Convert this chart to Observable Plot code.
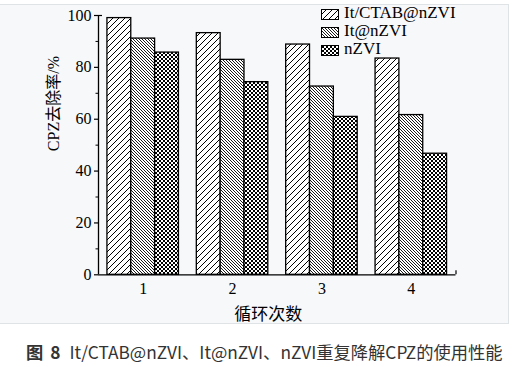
<!DOCTYPE html>
<html><head><meta charset="utf-8">
<script src="https://cdn.jsdelivr.net/npm/d3@7"></script>
<script src="https://cdn.jsdelivr.net/npm/@observablehq/plot@0.6"></script>
<style>
body{margin:0;background:#fff;width:523px;height:367px;overflow:hidden;position:relative;font-family:"Liberation Serif",serif;}
#panel{position:absolute;left:-1px;top:4px;width:508px;height:318px;background:#f7f8fa;border:1px solid #dfe3e6;}
#chart{position:absolute;left:0;top:0;}
.lg{position:absolute;left:321px;height:18px;}
.lg svg{position:absolute;left:0;top:4px;}
.lg span{position:absolute;left:23px;top:-1px;font-size:17px;line-height:18px;white-space:nowrap;color:#000;}
#caption{position:absolute;left:26px;top:341px;font-family:"Noto Sans CJK SC",sans-serif;font-size:17.3px;line-height:22px;color:#333;white-space:nowrap;}
#caption b{margin-right:9px;word-spacing:3px;}
</style></head>
<body>
<svg width="0" height="0" style="position:absolute">
<defs>
<pattern id="p0" patternUnits="userSpaceOnUse" width="6" height="6">
<rect width="6" height="6" fill="#fff"/>
<path d="M-1,7 L7,-1 M-1,1 L1,-1 M5,7 L7,5" stroke="#000" stroke-width="1"/>
</pattern>
<pattern id="p1" patternUnits="userSpaceOnUse" width="3" height="3">
<rect width="3" height="3" fill="#fff"/>
<path d="M-1,-1 L4,4 M-1,2 L1,4 M2,-1 L4,1" stroke="#000" stroke-width="0.9"/>
</pattern>
<pattern id="p2" patternUnits="userSpaceOnUse" width="4" height="4">
<rect width="4" height="4" fill="#fff"/>
<path d="M-1,-1 L5,5 M-1,5 L5,-1 M-1,3 L1,5 M3,-1 L5,1 M-1,1 L1,-1 M3,5 L5,3" stroke="#000" stroke-width="1.0"/>
</pattern>
</defs>
</svg>
<div id="panel"><div id="chart"></div></div>
<div id="legend"></div>
<div id="caption"><b>图 8</b>It/CTAB@nZVI、It@nZVI、nZVI重复降解CPZ的使用性能</div>
<script>
const cycles = [1, 2, 3, 4];
const seriesNames = ["It/CTAB@nZVI", "It@nZVI", "nZVI"];
const ctabValues = [99.0, 93.2, 88.8, 83.4];
const itValues = [91.1, 82.9, 72.6, 61.6];
const nzviValues = [85.7, 74.3, 60.9, 46.7];
const yTicks = [0, 20, 40, 60, 80, 100];
const yMinorTicks = [10, 30, 50, 70, 90];
const xLabel = "循环次数";
const yLabel = "CPZ去除率/%";

const seriesValues = [ctabValues, itValues, nzviValues];
const patterns = ["url(#p0)", "url(#p1)", "url(#p2)"];
const rows = [];
seriesValues.forEach((vals, si) => vals.forEach((v, ci) => rows.push({cycle: cycles[ci], si, value: v})));

const groupW = 0.8, barW = groupW / 3;
const x1 = d => d.cycle - groupW / 2 + d.si * barW;
const x2 = d => x1(d) + barW;
const font = "'Liberation Serif','Noto Sans CJK SC',serif";

const chart = Plot.plot({
  width: 508, height: 318,
  marginLeft: 98, marginRight: 52.5, marginTop: 10, marginBottom: 48.7,
  x: {type: "linear", domain: [0.5, 4.5]},
  y: {domain: [0, 100]},
  style: {fontFamily: font, fontSize: "16px", background: "transparent", color: "#000", overflow: "visible"},
  marks: [
    ...[0, 1, 2].map(si => Plot.rectY(rows.filter(d => d.si === si), {
      x1, x2, y1: 0, y2: "value", fill: patterns[si], stroke: "#000", strokeWidth: 1.3
    })),
    Plot.ruleX([0.5], {y1: 0, y2: 100, strokeWidth: 1.3}),
    Plot.ruleY([0], {x1: 0.5, x2: 4.5, strokeWidth: 1.3}),
    Plot.ruleY([100], {x1: 0.5, x2: 0.5 + 4 / 89.5, strokeWidth: 1.2}),
    Plot.ruleX([4.5], {y1: 0, y2: 4 / 2.6, strokeWidth: 1.2}),
    Plot.axisY({ticks: yTicks, tickSize: 4, tickPadding: 3, label: null, fontSize: 16, strokeWidth: 1.2}),
    Plot.axisY({ticks: yMinorTicks, tickSize: 2.5, tickFormat: () => "", label: null, strokeWidth: 1}),
    Plot.axisX({ticks: cycles, tickSize: 0, tickPadding: 8, tickFormat: d3.format("d"), label: null, fontSize: 16}),
    Plot.text([xLabel], {frameAnchor: "bottom", dy: 45, dx: -9, fontSize: 17, fontFamily: font}),
    Plot.text([yLabel], {frameAnchor: "left", rotate: -90, dx: -45, dy: 6, fontSize: 16, fontFamily: font})
  ]
});
document.getElementById("chart").appendChild(chart);

const legendCenters = [14, 31.8, 49.6];
const lg = document.getElementById("legend");
seriesNames.forEach((name, i) => {
  const row = document.createElement("div");
  row.className = "lg";
  row.style.top = (legendCenters[i] - 9) + "px";
  row.innerHTML = `<svg width="18" height="11"><rect x="0.5" y="0.5" width="17" height="10" fill="${patterns[i]}" stroke="#000" stroke-width="1"/></svg><span>${name}</span>`;
  lg.appendChild(row);
});
</script>
</body></html>
